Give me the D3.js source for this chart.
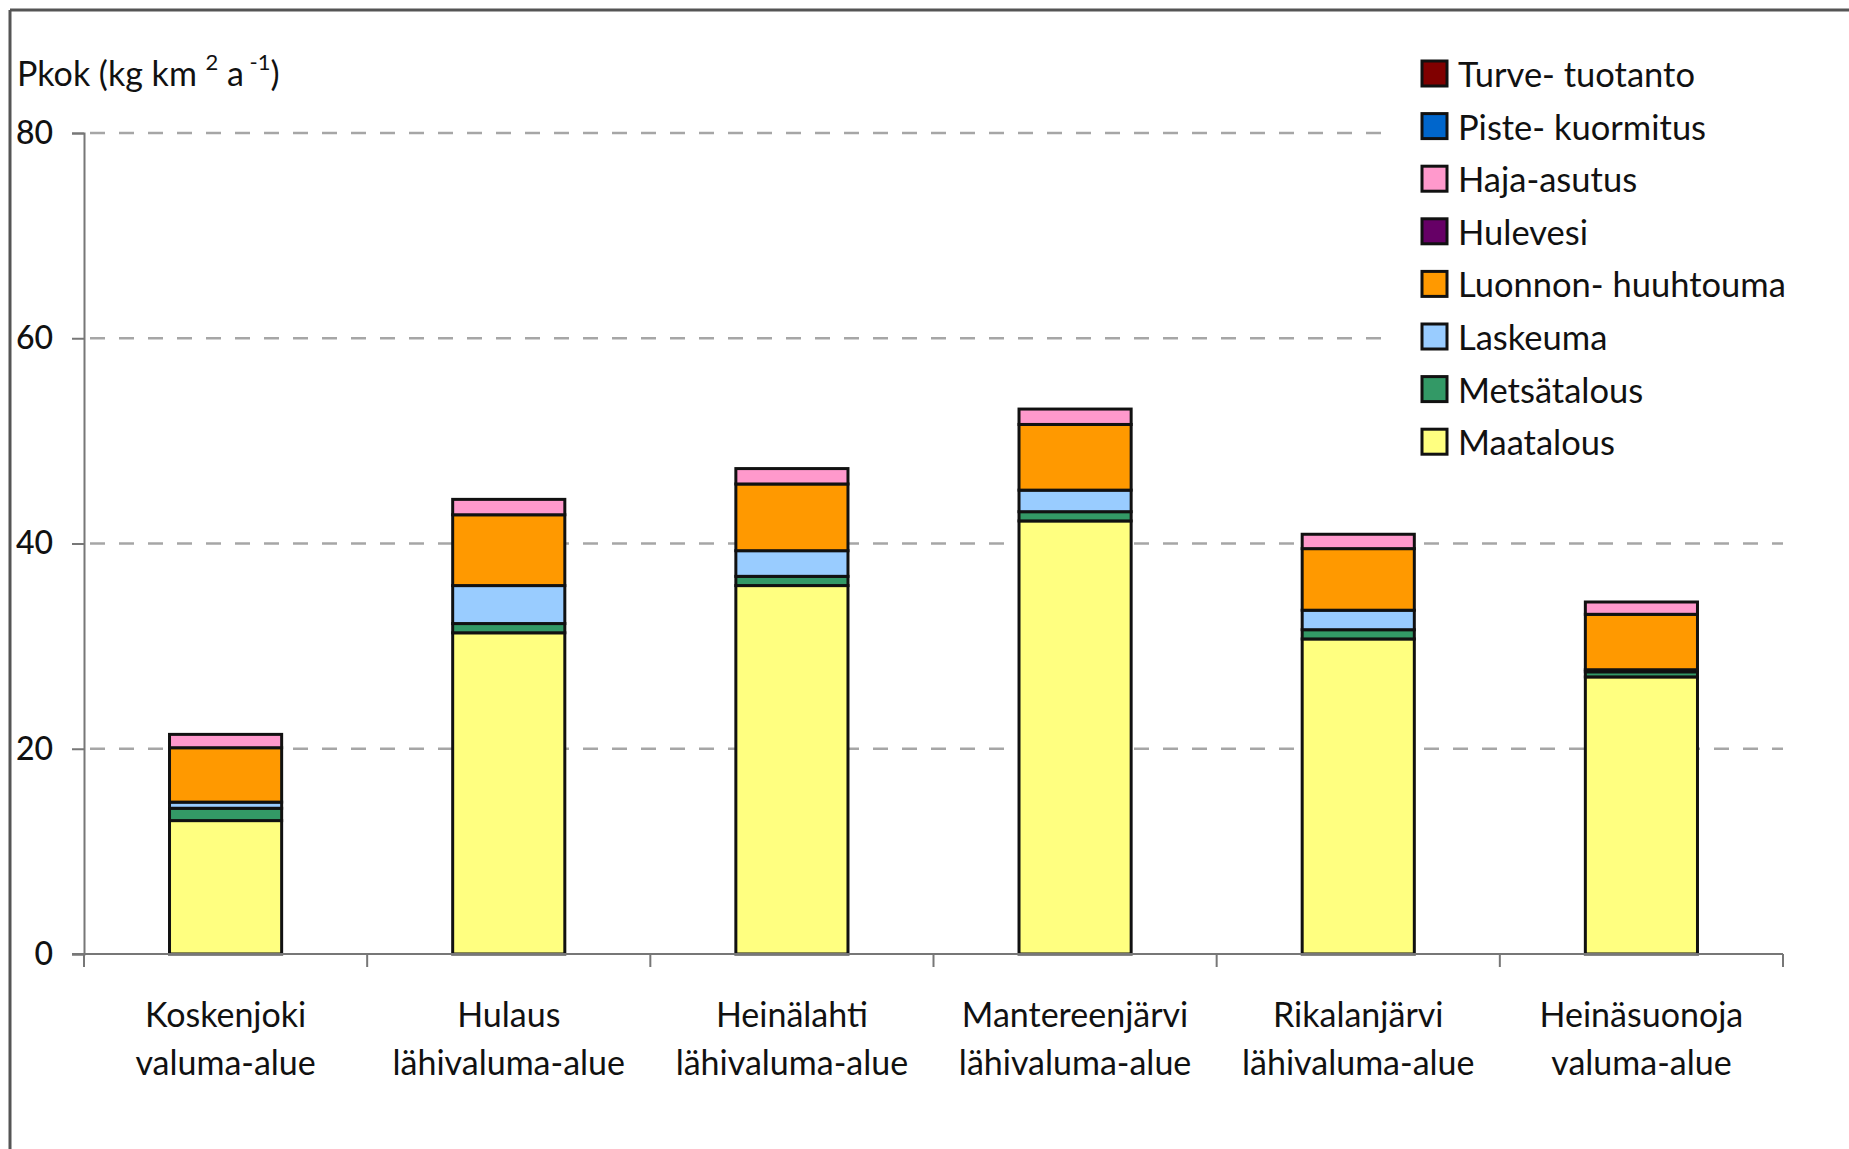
<!DOCTYPE html>
<html>
<head>
<meta charset="utf-8">
<script src="https://cdn.jsdelivr.net/npm/d3@7"></script>
<style>
  html, body { margin: 0; padding: 0; background: #fff; }
  svg { display: block; }
  text { font-family: Lato, "Open Sans", sans-serif; fill: #111; }
</style>
</head>
<body>
<svg id="chart" width="1849" height="1149"></svg>
<script>
// ---- data ----
const categories = [
  ["Koskenjoki", "valuma-alue"],
  ["Hulaus", "lähivaluma-alue"],
  ["Heinälahti", "lähivaluma-alue"],
  ["Mantereenjärvi", "lähivaluma-alue"],
  ["Rikalanjärvi", "lähivaluma-alue"],
  ["Heinäsuonoja", "valuma-alue"]
];
const seriesNames = ["Maatalous", "Metsätalous", "Laskeuma", "Luonnon- huuhtouma",
                     "Hulevesi", "Haja-asutus", "Piste- kuormitus", "Turve- tuotanto"];
const seriesColors = ["#ffff80", "#339966", "#99ccff", "#ff9900",
                      "#660066", "#ff99cc", "#0066cc", "#800000"];
const maatalous   = [13.0, 31.3, 35.9, 42.2, 30.7, 27.0];
const metsatalous = [1.2, 0.9, 0.9, 0.9, 0.9, 0.5];
const laskeuma    = [0.6, 3.7, 2.5, 2.1, 1.9, 0.2];
const luonnon     = [5.3, 6.9, 6.5, 6.4, 6.0, 5.4];
const hulevesi    = [0, 0, 0, 0, 0, 0];
const haja        = [1.3, 1.5, 1.5, 1.5, 1.4, 1.2];
const piste       = [0, 0, 0, 0, 0, 0];
const turve       = [0, 0, 0, 0, 0, 0];
const yTicks = [0, 20, 40, 60, 80];

const seriesValues = [maatalous, metsatalous, laskeuma, luonnon, hulevesi, haja, piste, turve];

// ---- layout ----
const svg = d3.select("#chart");
const mLeft = 84, mRight = 1783, mTop = 133, mBottom = 954;

const rows = categories.map((c, i) => {
  const r = { key: i };
  seriesNames.forEach((s, j) => r[s] = seriesValues[j][i]);
  return r;
});

const x = d3.scaleBand().domain(d3.range(categories.length)).range([mLeft, mRight])
  .paddingInner(0.604).paddingOuter(0.302);
const y = d3.scaleLinear().domain([0, 80]).range([mBottom, mTop]);

// frame (top and left edges)
svg.append("line").attr("x1", 10).attr("x2", 1849).attr("y1", 10).attr("y2", 10)
  .attr("stroke", "#555").attr("stroke-width", 3);
svg.append("line").attr("x1", 10).attr("x2", 10).attr("y1", 10).attr("y2", 1149)
  .attr("stroke", "#555").attr("stroke-width", 3);

// gridlines
svg.append("g").selectAll("line").data(yTicks.filter(t => t > 0)).join("line")
  .attr("x1", mLeft + 6)
  .attr("x2", d => d >= 60 ? 1382 : mRight)
  .attr("y1", d => y(d)).attr("y2", d => y(d))
  .attr("stroke", "#a6a6a6").attr("stroke-width", 2.5)
  .attr("stroke-dasharray", "15,14");

// bars
const stack = d3.stack().keys(seriesNames);
const stacked = stack(rows);
const layer = svg.append("g").selectAll("g").data(stacked).join("g")
  .attr("fill", (d, i) => seriesColors[i]);
layer.selectAll("rect").data(d => d.filter(p => p[1] - p[0] > 0)).join("rect")
  .attr("x", d => x(d.data.key))
  .attr("width", x.bandwidth())
  .attr("y", d => y(d[1]))
  .attr("height", d => y(d[0]) - y(d[1]))
  .attr("stroke", "#111").attr("stroke-width", 3);

// y axis
const yAxis = svg.append("g").attr("transform", `translate(${mLeft},0)`)
  .call(d3.axisLeft(y).tickValues(yTicks).tickSize(12).tickPadding(19).tickFormat(d3.format("d")));
yAxis.select(".domain").attr("stroke", "#777").attr("stroke-width", 2);
yAxis.selectAll(".tick line").attr("stroke", "#777").attr("stroke-width", 2);
yAxis.selectAll(".tick text").style("font-size", "32px").style("font-family", "Lato, sans-serif")
  .style("font-weight", 500).attr("fill", "#111");

// x axis
const xAxis = svg.append("g").attr("transform", `translate(0,${mBottom})`);
xAxis.append("line").attr("x1", mLeft - 12).attr("x2", mRight).attr("y1", 0).attr("y2", 0)
  .attr("stroke", "#777").attr("stroke-width", 2);
const boundaries = d3.range(categories.length + 1).map(i => i === categories.length ? mRight : x(i) - x.step() * x.paddingInner() / 2);
xAxis.selectAll("line.tk").data(boundaries).join("line").attr("class", "tk")
  .attr("x1", d => d).attr("x2", d => d).attr("y1", 0).attr("y2", 13)
  .attr("stroke", "#777").attr("stroke-width", 2);
const labels = xAxis.selectAll("text.cat").data(categories).join("text").attr("class", "cat")
  .attr("text-anchor", "middle")
  .style("font-size", "34px");
labels.append("tspan").attr("x", (d, i) => x(i) + x.bandwidth() / 2).attr("y", 73).text(d => d[0]);
labels.append("tspan").attr("x", (d, i) => x(i) + x.bandwidth() / 2).attr("y", 121).text(d => d[1]);

// title
const title = svg.append("text").attr("x", 17).attr("y", 86).style("font-size", "34px");
title.append("tspan").text("Pkok (kg km ");
title.append("tspan").attr("dy", -16).style("font-size", "22px").text("2");
title.append("tspan").attr("dy", 16).text(" a");
title.append("tspan").attr("dy", -16).style("font-size", "22px").text(" -1");
title.append("tspan").attr("dy", 16).text(")");

// legend
const legendOrder = d3.range(seriesNames.length).reverse();
const lg = svg.append("g");
lg.append("rect").attr("x", 1384).attr("y", 20).attr("width", 460).attr("height", 440).attr("fill", "#fff");
const li = lg.selectAll("g.li").data(legendOrder).join("g").attr("class", "li")
  .attr("transform", (d, i) => `translate(1422,${61 + i * 52.6})`);
li.append("rect").attr("width", 25).attr("height", 25)
  .attr("fill", d => seriesColors[d]).attr("stroke", "#111").attr("stroke-width", 3);
li.append("text").attr("x", 36).attr("y", 26).style("font-size", "34.5px").text(d => seriesNames[d]);
</script>
</body>
</html>
